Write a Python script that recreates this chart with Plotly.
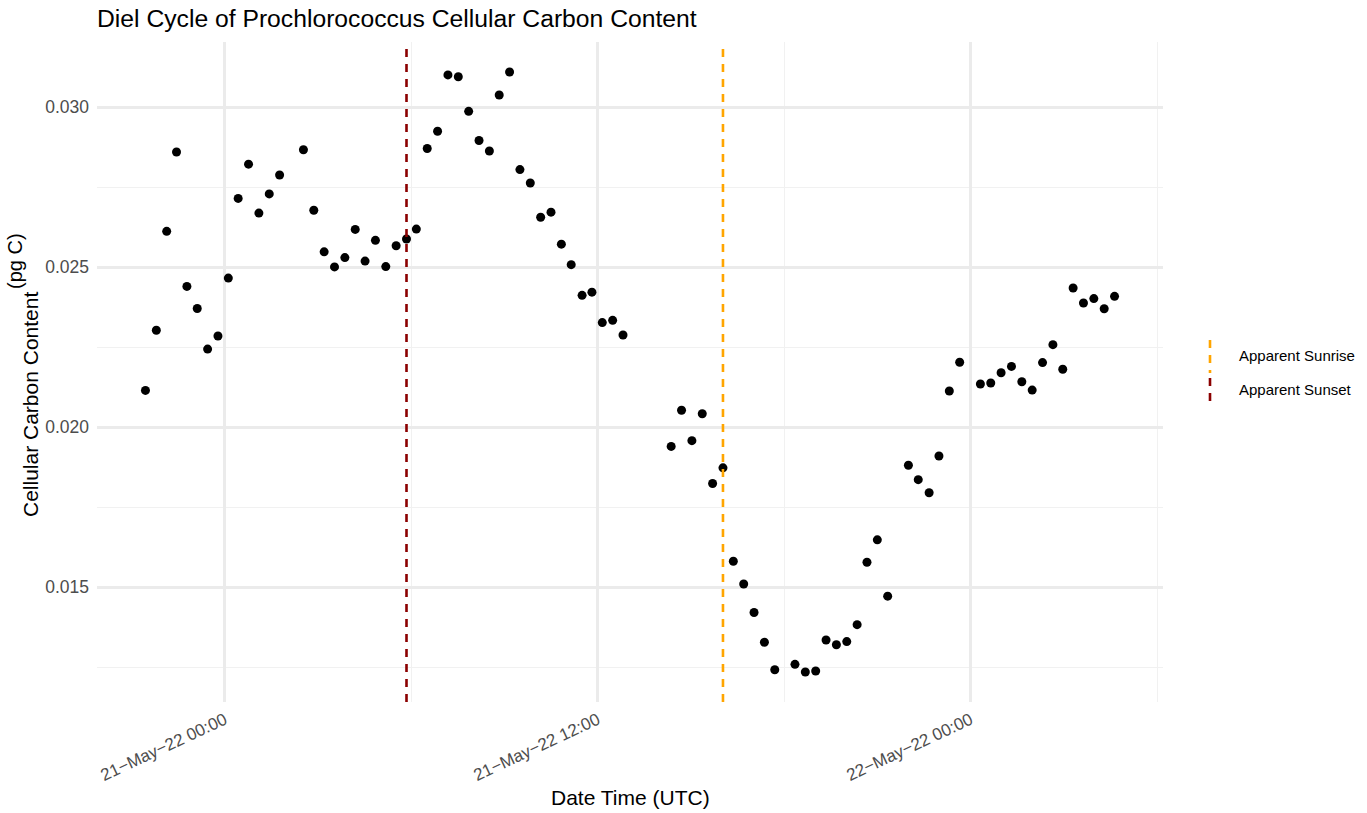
import pandas as pd
import plotly.graph_objects as go

# Sample timestamps (UTC) and Prochlorococcus cellular carbon content (pg C)
sample_time = [
    "2022-05-20 21:27", "2022-05-20 21:48", "2022-05-20 22:08", "2022-05-20 22:27",
    "2022-05-20 22:47", "2022-05-20 23:07", "2022-05-20 23:27", "2022-05-20 23:47",
    "2022-05-21 00:07", "2022-05-21 00:26", "2022-05-21 00:46", "2022-05-21 01:06",
    "2022-05-21 01:26", "2022-05-21 01:46", "2022-05-21 02:32", "2022-05-21 02:52",
    "2022-05-21 03:12", "2022-05-21 03:32", "2022-05-21 03:52", "2022-05-21 04:12",
    "2022-05-21 04:31", "2022-05-21 04:51", "2022-05-21 05:11", "2022-05-21 05:31",
    "2022-05-21 05:51", "2022-05-21 06:10", "2022-05-21 06:31", "2022-05-21 06:51",
    "2022-05-21 07:11", "2022-05-21 07:31", "2022-05-21 07:51", "2022-05-21 08:11",
    "2022-05-21 08:31", "2022-05-21 08:50", "2022-05-21 09:10", "2022-05-21 09:30",
    "2022-05-21 09:50", "2022-05-21 10:10", "2022-05-21 10:30", "2022-05-21 10:50",
    "2022-05-21 11:09", "2022-05-21 11:30", "2022-05-21 11:49", "2022-05-21 12:09",
    "2022-05-21 12:29", "2022-05-21 12:49",
    "2022-05-21 14:22", "2022-05-21 14:42", "2022-05-21 15:02", "2022-05-21 15:22",
    "2022-05-21 15:42", "2022-05-21 16:02", "2022-05-21 16:22", "2022-05-21 16:42",
    "2022-05-21 17:02", "2022-05-21 17:22", "2022-05-21 17:42", "2022-05-21 18:21",
    "2022-05-21 18:41", "2022-05-21 19:01", "2022-05-21 19:21", "2022-05-21 19:41",
    "2022-05-21 20:01", "2022-05-21 20:21", "2022-05-21 20:40", "2022-05-21 21:00",
    "2022-05-21 21:20", "2022-05-21 22:00", "2022-05-21 22:19", "2022-05-21 22:40",
    "2022-05-21 22:59", "2022-05-21 23:19", "2022-05-21 23:39",
    "2022-05-22 00:19", "2022-05-22 00:39", "2022-05-22 00:59", "2022-05-22 01:19",
    "2022-05-22 01:39", "2022-05-22 01:59", "2022-05-22 02:19", "2022-05-22 02:39",
    "2022-05-22 02:58", "2022-05-22 03:18", "2022-05-22 03:38", "2022-05-22 03:58",
    "2022-05-22 04:18", "2022-05-22 04:38",
]

carbon_pg = [
    0.02115, 0.02303, 0.02612, 0.02860, 0.02440, 0.02371, 0.02244, 0.02285,
    0.02466, 0.02715, 0.02822, 0.02669, 0.02729, 0.02788, 0.02867, 0.02678,
    0.02548, 0.02501, 0.02530, 0.02618, 0.02519, 0.02584, 0.02502, 0.02567,
    0.02588, 0.02619, 0.02871, 0.02925, 0.03101, 0.03095, 0.02987, 0.02896,
    0.02863, 0.03038, 0.03110, 0.02805, 0.02763, 0.02656, 0.02672, 0.02572,
    0.02508, 0.02412, 0.02422, 0.02327, 0.02334, 0.02288,
    0.01940, 0.02053, 0.01958, 0.02042, 0.01824, 0.01873, 0.01581, 0.01510,
    0.01421, 0.01328, 0.01242, 0.01259, 0.01235, 0.01238, 0.01335, 0.01320,
    0.01330, 0.01383, 0.01578, 0.01648, 0.01472, 0.01881, 0.01836, 0.01795,
    0.01910, 0.02113, 0.02203,
    0.02135, 0.02138, 0.02170, 0.02190, 0.02142, 0.02116, 0.02202, 0.02258,
    0.02181, 0.02435, 0.02388, 0.02402, 0.02370, 0.02409,
]

# Apparent sunset / sunrise times (UTC)
sun_event_names = ["Apparent Sunrise", "Apparent Sunset"]
sun_event_times = ["2022-05-21 16:02", "2022-05-21 05:51"]
sun_event_colors = ["#FFA500", "#8B0000"]

# Axis ticks
x_major_ticks = ["2022-05-21 00:00", "2022-05-21 12:00", "2022-05-22 00:00"]
x_major_labels = ["21\u2212May\u221222 00:00", "21\u2212May\u221222 12:00", "22\u2212May\u221222 00:00"]
x_minor_ticks = ["2022-05-21 06:00", "2022-05-21 18:00", "2022-05-22 06:00"]
y_major_ticks = [0.015, 0.020, 0.025, 0.030]
y_major_labels = ["0.015", "0.020", "0.025", "0.030"]
y_minor_ticks = [0.0125, 0.0175, 0.0225, 0.0275]

FONT = "Liberation Sans, Arial, sans-serif"
W, H = 1367, 813
M_L, M_R, M_T, M_B = 97, 204, 42, 111

# ggplot-like 5% expansion of both scales
t = pd.to_datetime(sample_time)
t_span = t.max() - t.min()
x_range = [t.min() - 0.05 * t_span, t.max() + 0.05 * t_span]
y_span = max(carbon_pg) - min(carbon_pg)
y_range = [min(carbon_pg) - 0.05 * y_span, max(carbon_pg) + 0.05 * y_span]

fig = go.Figure()
fig.add_trace(go.Scatter(
    x=t, y=carbon_pg, mode="markers",
    marker=dict(color="black", size=9, line=dict(width=0)),
    showlegend=False,
))

# Dashed vertical lines for sun events, drawn above the points
for when, col in zip(sun_event_times, sun_event_colors):
    fig.add_shape(type="line", xref="x", yref="paper",
                  x0=when, x1=when, y0=0, y1=1, layer="above",
                  line=dict(color=col, width=2.6, dash="8px,7px"))

# Helpers converting page pixels into paper coordinates
pw = W - M_L - M_R
ph = H - M_T - M_B
def px(xp):
    return (xp - M_L) / pw
def py(yp):
    return (H - M_B - yp) / ph

# Legend keys with vertical dashed glyphs
key_rows = [(340, 373, 356), (378, 408, 389)]
for name, col, (y0, y1, yc) in zip(sun_event_names, sun_event_colors, key_rows):
    fig.add_shape(type="line", xref="paper", yref="paper",
                  x0=px(1210), x1=px(1210), y0=py(y0), y1=py(y1),
                  line=dict(color=col, width=2.6, dash="8px,7px"))
    fig.add_annotation(xref="paper", yref="paper", x=px(1237), y=py(yc),
                       text=name, showarrow=False, xanchor="left", yanchor="middle",
                       font=dict(family=FONT, size=15, color="black"))

# Axis titles
fig.add_annotation(xref="paper", yref="paper", x=px(630), y=py(797),
                   text="Date Time (UTC)", showarrow=False,
                   xanchor="center", yanchor="middle",
                   font=dict(family=FONT, size=21, color="black"))
fig.add_annotation(xref="paper", yref="paper", x=px(30), y=py(405),
                   text="Cellular Carbon Content", textangle=-90, showarrow=False,
                   xanchor="center", yanchor="middle",
                   font=dict(family=FONT, size=21, color="black"))
fig.add_annotation(xref="paper", yref="paper", x=px(15), y=py(261),
                   text="(pg C)", textangle=-90, showarrow=False,
                   xanchor="center", yanchor="middle",
                   font=dict(family=FONT, size=20, color="black"))

fig.update_layout(
    width=W, height=H,
    margin=dict(l=M_L, r=M_R, t=M_T, b=M_B, autoexpand=False),
    paper_bgcolor="white", plot_bgcolor="white",
    font=dict(family=FONT, color="black"),
    title=dict(text="Diel Cycle of Prochlorococcus Cellular Carbon Content",
               x=M_L / W, xanchor="left", xref="container",
               y=1 - 18 / H, yanchor="middle", yref="container",
               font=dict(family=FONT, size=24.7, color="black")),
    showlegend=False,
    xaxis=dict(
        type="date", range=x_range, automargin=False,
        tickmode="array", tickvals=x_major_ticks, ticktext=x_major_labels,
        tickangle=-25, tickfont=dict(family=FONT, size=17, color="#4D4D4D"),
        showgrid=True, gridcolor="#EBEBEB", gridwidth=2.6,
        minor=dict(tickmode="array", tickvals=x_minor_ticks, showgrid=True,
                   gridcolor="#F1F1F1", gridwidth=1.3),
        zeroline=False, showline=False, ticks="", ticklabelstandoff=4,
    ),
    yaxis=dict(
        range=y_range, automargin=False,
        tickmode="array", tickvals=y_major_ticks, ticktext=y_major_labels,
        tickfont=dict(family=FONT, size=17.5, color="#4D4D4D"),
        showgrid=True, gridcolor="#EBEBEB", gridwidth=2.6,
        minor=dict(tickmode="array", tickvals=y_minor_ticks, showgrid=True,
                   gridcolor="#F1F1F1", gridwidth=1.3),
        zeroline=False, showline=False, ticks="", ticklabelstandoff=7,
    ),
)

fig.write_html("out.html")
